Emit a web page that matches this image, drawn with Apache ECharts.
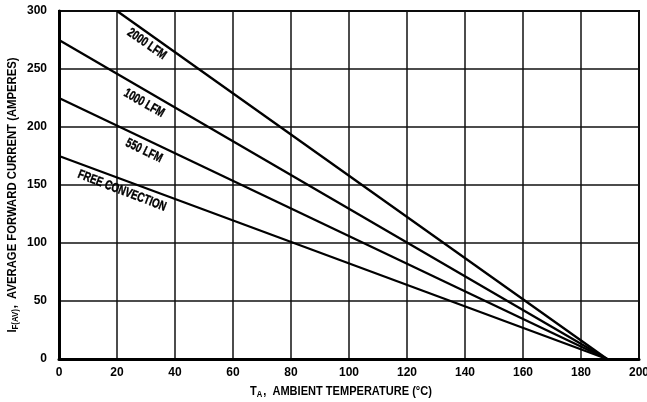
<!DOCTYPE html>
<html>
<head>
<meta charset="utf-8">
<script src="https://cdn.jsdelivr.net/npm/echarts@6/dist/echarts.min.js"></script>
<style>
  html, body { margin: 0; padding: 0; background: #fff; }
  #chart { width: 647px; height: 402px; }
</style>
</head>
<body>
<div id="chart"></div>
<script>
// curves: [ambient temp, current] end points
const lfm2000 = [[20, 300], [189, 0]]
const lfm1000 = [[0, 275], [189, 0]]
const lfm550 = [[0, 225], [189, 0]]
const freeConv = [[0, 175], [189, 0]]
// label centres (data coords) and angles along each curve
const labelNames = ['2000 LFM', '1000 LFM', '550 LFM', 'FREE CONVECTION']
const labelPos = [[30.3, 271.5], [29.3, 220.5], [29.3, 179.5], [21.7, 145]]
const labelAngle = [35, 30, 26, 21]

const font = '"Liberation Sans", Arial, sans-serif'
const dom = document.getElementById('chart')
const chart = echarts.init(dom)

function curve(name, data) {
  return {
    name: name,
    type: 'line',
    data: data,
    symbol: 'none',
    silent: true,
    lineStyle: { color: '#000', width: 2.3 }
  }
}

chart.setOption({
  animation: false,
  grid: {
    left: 59,
    right: 8,
    top: 11,
    bottom: 43,
    containLabel: false,
    outerBoundsMode: 'none',
    show: true,
    borderColor: '#000',
    borderWidth: 2
  },
  xAxis: {
    type: 'value',
    min: 0,
    max: 200,
    interval: 20,
    axisLine: { lineStyle: { color: '#000', width: 3 } },
    axisTick: { show: false },
    axisLabel: { color: '#000', fontFamily: font, fontWeight: 'bold', fontSize: 12, margin: 8 },
    splitLine: { lineStyle: { color: '#111', width: 1.5 } }
  },
  yAxis: {
    type: 'value',
    min: 0,
    max: 300,
    interval: 50,
    axisLine: { show: true, lineStyle: { color: '#000', width: 3 } },
    axisTick: { show: false },
    axisLabel: { color: '#000', fontFamily: font, fontWeight: 'bold', fontSize: 12, margin: 12 },
    splitLine: { lineStyle: { color: '#111', width: 1.5 } }
  },
  series: [
    curve('2000 LFM', lfm2000),
    curve('1000 LFM', lfm1000),
    curve('550 LFM', lfm550),
    curve('FREE CONVECTION', freeConv)
  ]
})

// condensed bold text, like the original's lettering
const rich = {
  m: { fontFamily: font, fontWeight: 'bold', fontSize: 13, fill: '#000' },
  s: { fontFamily: font, fontWeight: 'bold', fontSize: 9, fill: '#000', padding: [8, 1, 0, 0] }
}
const graphics = labelNames.map(function (name, i) {
  const p = chart.convertToPixel({ gridIndex: 0 }, labelPos[i])
  return {
    type: 'text',
    x: p[0],
    y: p[1],
    rotation: -labelAngle[i] * Math.PI / 180,
    scaleX: 0.75,
    silent: true,
    style: {
      text: name,
      fill: '#000',
      stroke: '#000',
      lineWidth: 0.4,
      font: 'bold 13px ' + font,
      align: 'center',
      verticalAlign: 'middle'
    }
  }
})
graphics.push({
  type: 'text',
  x: 341,
  y: 391,
  scaleX: 0.85,
  silent: true,
  style: {
    text: '{m|T}{s|A}{m|,  AMBIENT TEMPERATURE (°C)}',
    rich: rich,
    align: 'center',
    verticalAlign: 'middle'
  }
})
graphics.push({
  type: 'text',
  x: 12,
  y: 195,
  rotation: Math.PI / 2,
  scaleX: 0.87,
  silent: true,
  style: {
    text: '{m|I}{s|F(AV)}{m|,  AVERAGE FORWARD CURRENT (AMPERES)}',
    rich: rich,
    align: 'center',
    verticalAlign: 'middle'
  }
})
chart.setOption({ graphic: graphics })
</script>
</body>
</html>
